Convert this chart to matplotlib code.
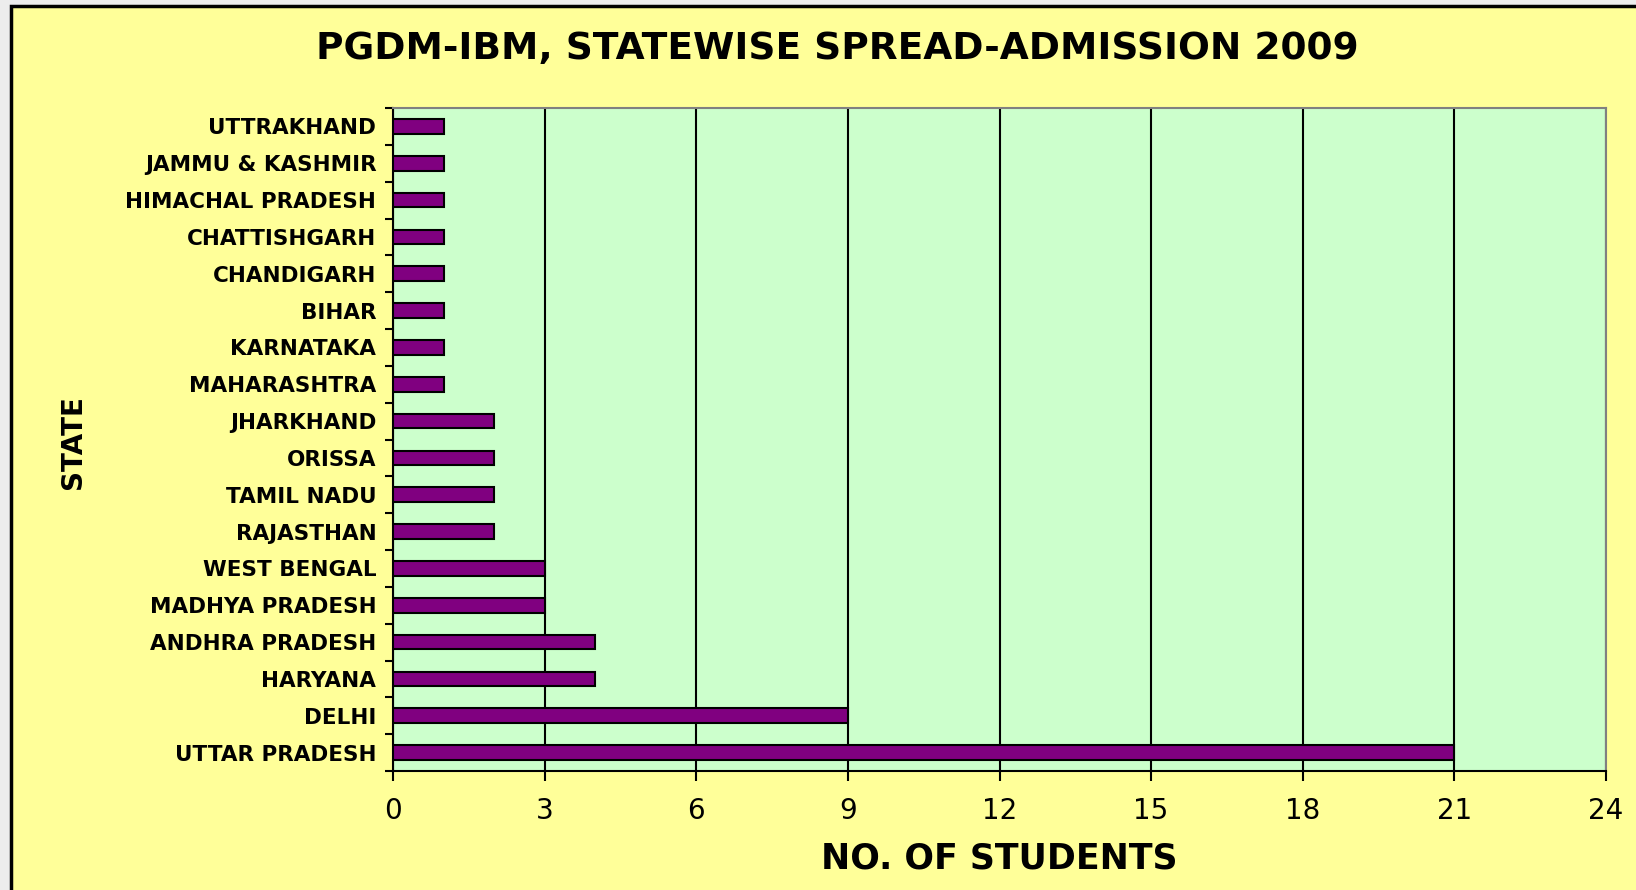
import matplotlib.pyplot as plt
from matplotlib.patches import Rectangle
from matplotlib.ticker import FixedLocator

# data (bottom to top, as drawn)
states = ['UTTAR PRADESH', 'DELHI', 'HARYANA', 'ANDHRA PRADESH', 'MADHYA PRADESH',
          'WEST BENGAL', 'RAJASTHAN', 'TAMIL NADU', 'ORISSA', 'JHARKHAND',
          'MAHARASHTRA', 'KARNATAKA', 'BIHAR', 'CHANDIGARH', 'CHATTISHGARH',
          'HIMACHAL PRADESH', 'JAMMU & KASHMIR', 'UTTRAKHAND']
students = [21, 9, 4, 4, 3, 3, 2, 2, 2, 2, 1, 1, 1, 1, 1, 1, 1, 1]
x_ticks = [0, 3, 6, 9, 12, 15, 18, 21, 24]

fig = plt.figure(figsize=(16.36, 8.90), dpi=100, facecolor='#EDEDED')

# yellow chart panel with black top/left border
fig.patches.append(Rectangle((11 / 1636, -0.05), 1.0, 1 - 6 / 890 + 0.05,
                             transform=fig.transFigure, facecolor='#FFFF99',
                             edgecolor='black', linewidth=2.5, zorder=0))

ax = fig.add_axes([393 / 1636, 1 - 771 / 890, 1213 / 1636, 663 / 890])
ax.set_zorder(2)
ax.set_facecolor('#CCFFCC')

pos = list(range(len(states)))
ax.barh(pos, students, height=0.4, color='#800080', edgecolor='black',
        linewidth=1.5, zorder=3)

ax.set_xlim(0, 24)
ax.set_ylim(-0.5, len(states) - 0.5)
ax.set_xticks(x_ticks)
ax.set_xticklabels([str(t) for t in x_ticks], fontsize=20, family='DejaVu Sans')
ax.set_yticks(pos)
ax.set_yticklabels(states, fontsize=15.5, fontweight='bold', family='DejaVu Sans')
ax.yaxis.set_minor_locator(FixedLocator([p - 0.5 for p in pos] + [len(states) - 0.5]))

ax.tick_params(axis='y', which='major', length=0, pad=12)
ax.tick_params(axis='y', which='minor', length=6, width=1.5, direction='out')
ax.tick_params(axis='x', length=7, width=1.5, direction='out', pad=12)

ax.grid(axis='x', color='black', linewidth=1.5, zorder=1)
ax.set_axisbelow(True)

for side in ['left', 'bottom']:
    ax.spines[side].set_color('black')
    ax.spines[side].set_linewidth(1.5)
for side in ['top', 'right']:
    ax.spines[side].set_color('#808080')
    ax.spines[side].set_linewidth(1.5)

ax.set_xlabel('NO. OF STUDENTS', fontsize=25, fontweight='bold', family='DejaVu Sans')
ax.xaxis.set_label_coords(0.5, -0.1056)
ax.set_ylabel('STATE', fontsize=20, fontweight='bold', family='DejaVu Sans')
ax.yaxis.set_label_coords(-0.252, 0.496)

fig.text(837 / 1636, 1 - 49 / 890, 'PGDM-IBM, STATEWISE SPREAD-ADMISSION 2009',
         ha='center', va='center', fontsize=27, fontweight='bold', family='DejaVu Sans')

fig.savefig('out.png', dpi=100, facecolor=fig.get_facecolor())
